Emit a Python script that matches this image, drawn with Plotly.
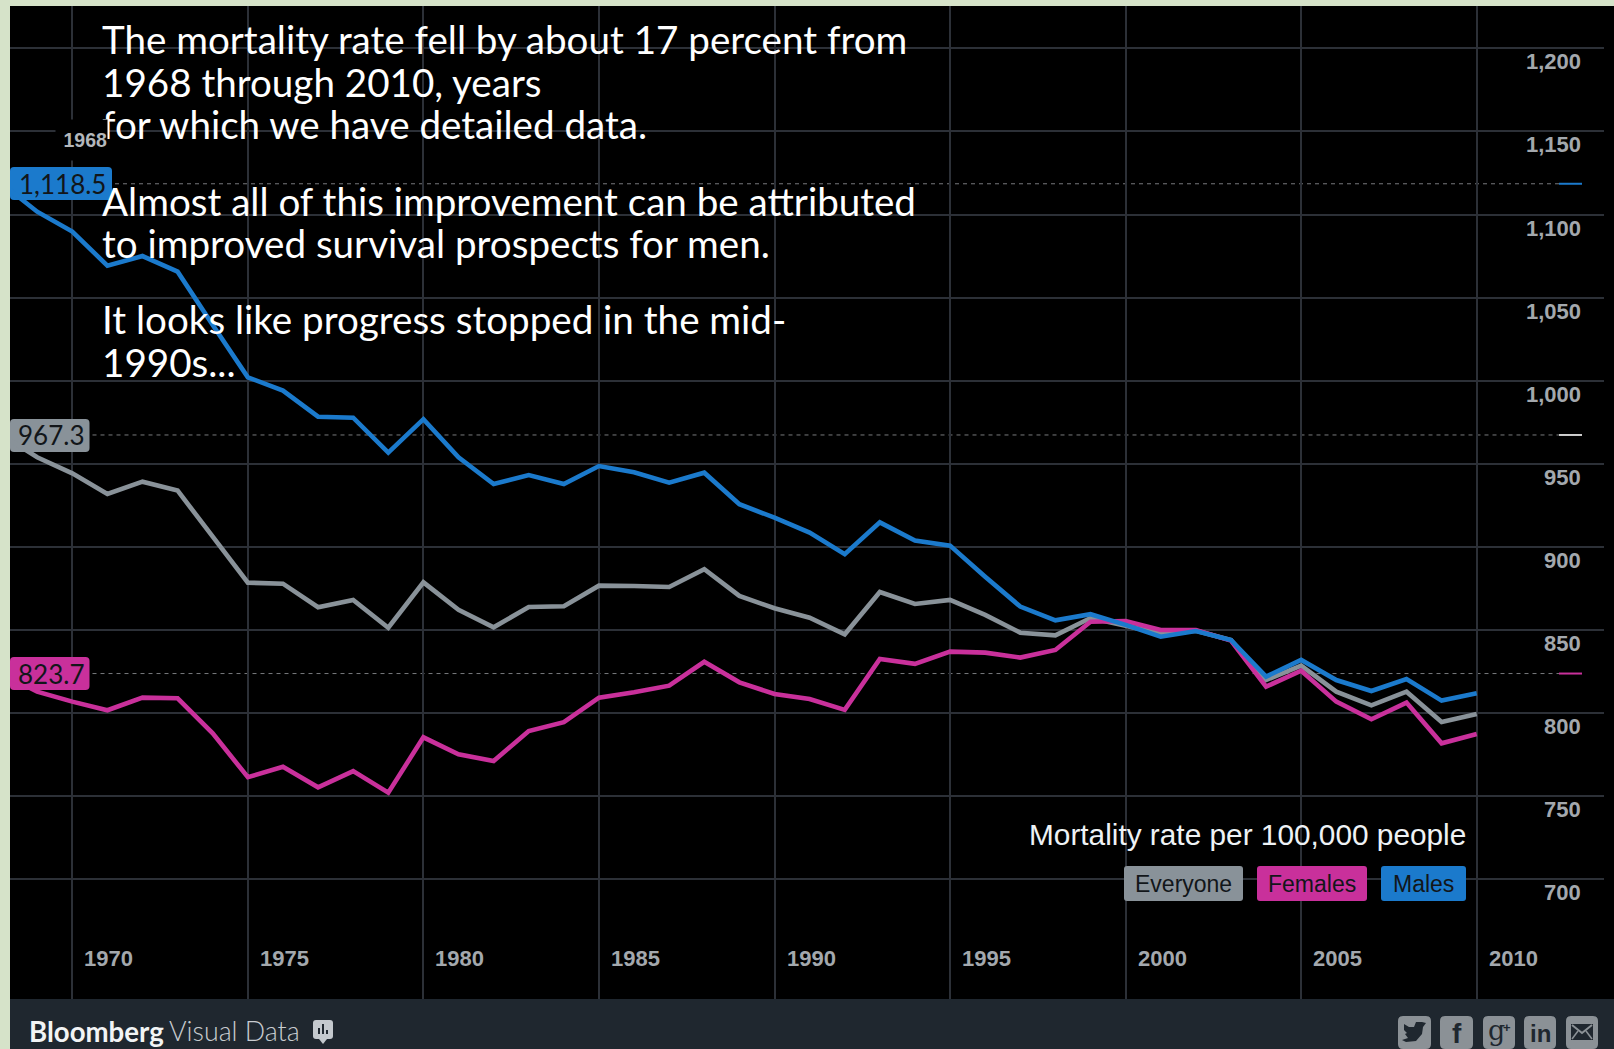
import plotly.graph_objects as go

W, H = 1614, 1049

years = list(range(1968, 2011))
males = [1118.5, 1101.7, 1089.7, 1069.2, 1075.0, 1065.6, 1033.5, 1002.0, 994.0, 978.3, 977.7, 956.7, 976.8,
         953.9, 937.8, 943.2, 937.8, 948.6, 944.8, 938.6, 944.6, 925.6, 917.5, 908.5, 895.5, 914.7, 903.7,
         900.7, 882.0, 864.0, 855.7, 859.4, 853.0, 845.9, 849.3, 843.9, 821.8, 831.9, 819.8, 813.2, 820.4,
         807.4, 811.8]
everyone = [967.3, 953.9, 944.2, 931.8, 939.2, 933.8, 906.1, 878.4, 877.8, 863.6, 868.0, 851.3, 878.6,
            862.0, 851.5, 863.8, 864.2, 876.6, 876.4, 875.8, 886.5, 870.4, 863.0, 857.3, 847.3, 872.8, 865.6,
            868.0, 859.0, 848.3, 846.7, 857.1, 852.5, 847.9, 849.5, 843.9, 819.8, 828.4, 812.8, 804.6, 812.8,
            794.5, 799.4]
females = [823.7, 812.8, 806.8, 801.6, 809.2, 808.8, 787.7, 761.3, 767.6, 755.2, 765.0, 752.0, 785.3,
           775.1, 771.1, 789.1, 794.4, 809.2, 812.4, 816.4, 830.8, 818.4, 811.4, 808.4, 801.8, 832.5, 829.5,
           836.9, 836.3, 833.3, 837.9, 854.9, 855.3, 849.9, 849.9, 843.5, 815.8, 825.4, 806.8, 796.2, 806.2,
           781.7, 787.3]

x_ticks = [1970, 1975, 1980, 1985, 1990, 1995, 2000, 2005, 2010]
y_ticks = [700, 750, 800, 850, 900, 950, 1000, 1050, 1100, 1150, 1200]

narrative = [
    ("The mortality rate fell by about 17 percent from", 39.5),
    ("1968 through 2010, years", 82),
    ("for which we have detailed data.", 124),
    ("Almost all of this improvement can be attributed", 200.5),
    ("to improved survival prospects for men.", 243.5),
    ("It looks like progress stopped in the mid-", 319.5),
    ("1990s...", 361.5),
]

BLUE, PINK, GRAY = "#1b7acc", "#c9309b", "#899299"
GRID = "#2c3037"
GREEN = "#d6e3c9"
FOOT = "#1f272f"
DARK = "#12161a"
SANS = "Liberation Sans"
NARR = "Lato"

X_RANGE = [1968.226, 2013.625]
Y_RANGE = [627.8, 1225.5]
DX0, DX1, DY0, DY1 = 10, 1604, 999, 6


def px(x):
    return x / W


def py(y):
    return 1 - y / H


def dx(x):
    return X_RANGE[0] + (x - DX0) / (DX1 - DX0) * (X_RANGE[1] - X_RANGE[0])


def dy(y):
    return Y_RANGE[0] + (DY0 - y) / (DY0 - DY1) * (Y_RANGE[1] - Y_RANGE[0])


def rrect(x0, y0, x1, y1, r, fill, layer="between"):
    """Rounded box; drawn on the axes so it can sit over the grid and under the lines."""
    if layer == "between":
        fx, fy, ref = dx, dy, dict(xref="x", yref="y")
    else:
        fx, fy, ref = px, py, dict(xref="paper", yref="paper")
    a, b, c, d = fx(x0), fx(x1), fy(y0), fy(y1)
    a2, b2, c2, d2 = fx(x0 + r), fx(x1 - r), fy(y0 + r), fy(y1 - r)
    path = (f"M{a2},{c} L{b2},{c} Q{b},{c} {b},{c2} L{b},{d2} Q{b},{d} {b2},{d} "
            f"L{a2},{d} Q{a},{d} {a},{d2} L{a},{c2} Q{a},{c} {a2},{c} Z")
    return dict(type="path", path=path, fillcolor=fill, line=dict(width=0), layer=layer, **ref)


def rect(x0, y0, x1, y1, fill, layer="below"):
    return dict(type="rect", xref="paper", yref="paper", x0=px(x0), x1=px(x1), y0=py(y1), y1=py(y0),
                fillcolor=fill, line=dict(width=0), layer=layer)


def poly(points, fill, layer="above", close=True, line=None):
    d = "M" + " L".join(f"{px(a)},{py(b)}" for a, b in points) + (" Z" if close else "")
    return dict(type="path", path=d, xref="paper", yref="paper", fillcolor=fill if close else "rgba(0,0,0,0)",
                line=line or dict(width=0), layer=layer)


def text(x, y, s, size, color, anchor="left", family=SANS, weight=None, **kw):
    font = dict(family=family, size=size, color=color)
    if weight:
        font["weight"] = weight
    return dict(xref="paper", yref="paper", x=px(x), y=py(y), text=s, showarrow=False, xanchor=anchor,
                yanchor="middle", font=font, **kw)


fig = go.Figure()
for name, vals, col in [("Everyone", everyone, GRAY), ("Females", females, PINK), ("Males", males, BLUE)]:
    fig.add_trace(go.Scatter(x=years, y=vals, mode="lines", name=name, line=dict(color=col, width=4.6),
                             hoverinfo="skip"))

shapes = [
    rect(0, 0, 10, H, GREEN),
    rect(0, 0, W, 6, GREEN),
    rect(10, 999, W, H, FOOT),
]

annots = []
for val, col, end, bx1, label, ytop, ybot in [
    (males[0], BLUE, BLUE, 112, "1,118.5", 167, 200),
    (everyone[0], GRAY, "#cfcfcf", 89.5, "967.3", 419, 452),
    (females[0], PINK, PINK, 89.5, "823.7", 657, 690),
]:
    shapes.append(dict(type="line", xref="paper", yref="y", x0=px(bx1 + 3), x1=px(1559), y0=val, y1=val,
                       line=dict(color="#77797c", width=1, dash="4px,4px"), layer="between"))
    shapes.append(dict(type="line", xref="paper", yref="y", x0=px(1559), x1=px(1582), y0=val, y1=val,
                       line=dict(color=end, width=2), layer="between"))
    shapes.append(rrect(10, ytop, bx1, ybot, 4, col))
    annots.append(text((10 + bx1) / 2 + 1, (ytop + ybot) / 2, label, 26, DARK, "center", NARR))

for s, y in narrative:
    annots.append(text(100, y, s, 38.6, "#ffffff", "left", NARR))

annots.append(dict(xref="paper", yref="paper", x=px(81), y=py(140), text="<b>1968</b>", showarrow=False,
                   xanchor="center", yanchor="middle", width=51, height=40, bgcolor="#000000", align="right",
                   borderpad=0, font=dict(family=SANS, size=19.5, color="#b3b7bb")))

for yr in x_ticks:
    annots.append(dict(xref="x", yref="paper", x=yr, y=py(958.5), xshift=36.5, text=f"<b>{yr}</b>", showarrow=False,
                       xanchor="center", yanchor="middle", font=dict(family=SANS, size=22, color="#a3a8ad")))
for v in y_ticks:
    annots.append(dict(xref="paper", yref="y", x=px(1583), y=v, yshift=-13.5, text=f"<b>{v:,}</b>", showarrow=False,
                       xanchor="right", yanchor="middle", font=dict(family=SANS, size=22, color="#a3a8ad")))

annots.append(text(1468, 834, "Mortality rate per 100,000 people", 29.8, "#eef2f5", "right"))
for name, col, x0, x1 in [("Everyone", GRAY, 1124, 1243), ("Females", PINK, 1257, 1367), ("Males", BLUE, 1381, 1466)]:
    shapes.append(rrect(x0, 866, x1, 901, 3, col))
    annots.append(text((x0 + x1) / 2, 884, name, 23, DARK, "center"))

annots.append(text(27, 1031, "<b>Bloomberg</b>", 27.6, "#f2f4f5", "left", NARR))
annots.append(text(167, 1031, "Visual Data", 26.8, "#c8ccd0", "left", NARR, weight=300))
shapes.append(rrect(313, 1020, 333, 1039, 3, "#c4c9ce", "above"))
shapes.append(poly([(319, 1039), (327, 1039), (323, 1044)], "#c4c9ce"))
for bx, bh in [(318, 6), (322, 10), (326, 4)]:
    shapes.append(rect(bx, 1034 - bh, bx + 2, 1034, FOOT, "above"))

BTN = "#8b9196"
for x0, x1 in [(1398, 1431), (1440, 1473), (1483, 1515), (1524, 1556), (1566, 1598)]:
    shapes.append(rrect(x0, 1016, x1, 1049, 5, BTN, "above"))
shapes.append(poly([(1404, 1024), (1409, 1027), (1414, 1027), (1416, 1022), (1422, 1022), (1426, 1023),
                    (1423, 1027), (1422, 1034), (1416, 1041), (1406, 1042), (1402, 1040), (1408, 1038),
                    (1405, 1034), (1407, 1033), (1404, 1030)], FOOT))
annots.append(text(1456.5, 1033, "<b>f</b>", 28, FOOT, "center"))
annots.append(text(1496, 1030, "g", 27, FOOT, "center", "DejaVu Serif"))
annots.append(text(1507, 1027, "<b>+</b>", 13, FOOT, "center"))
annots.append(text(1540, 1033, "<b>in</b>", 24, FOOT, "center"))
shapes.append(poly([(1571, 1024), (1593, 1024), (1593, 1040), (1571, 1040)], FOOT))
shapes.append(poly([(1572, 1025), (1582, 1033), (1592, 1025)], "rgba(0,0,0,0)", close=False,
                   line=dict(color=BTN, width=2)))
shapes.append(poly([(1572, 1039), (1578, 1031)], "rgba(0,0,0,0)", close=False, line=dict(color=BTN, width=1.5)))
shapes.append(poly([(1592, 1039), (1586, 1031)], "rgba(0,0,0,0)", close=False, line=dict(color=BTN, width=1.5)))

fig.update_layout(
    width=W, height=H, margin=dict(l=0, r=0, t=0, b=0), autosize=False,
    paper_bgcolor="#000000", plot_bgcolor="#000000", showlegend=False, hovermode=False,
    shapes=shapes, annotations=annots,
    xaxis=dict(domain=[px(DX0), px(DX1)], range=X_RANGE, tickvals=x_ticks, showticklabels=False,
               showgrid=True, gridcolor=GRID, gridwidth=2.2, zeroline=False, showline=False, ticks=""),
    yaxis=dict(domain=[py(DY0), py(DY1)], range=Y_RANGE, tickvals=y_ticks, showticklabels=False,
               showgrid=True, gridcolor=GRID, gridwidth=2.2, zeroline=False, showline=False, ticks=""),
)

fig.write_html("out.html", config=dict(displayModeBar=False),
               post_script="document.body.style.margin='0';document.body.style.overflow='hidden';")
